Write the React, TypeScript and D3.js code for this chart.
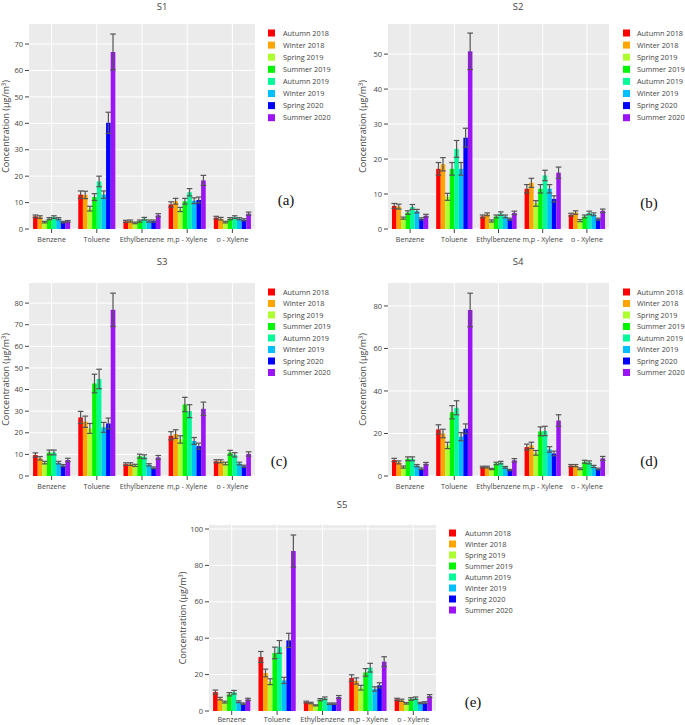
import React from 'react';
import * as d3 from 'd3';

const seasons = ['Autumn 2018', 'Winter 2018', 'Spring 2019', 'Summer 2019', 'Autumn 2019', 'Winter 2019', 'Spring 2020', 'Summer 2020'];
const seasonColors = ['#FF0000', '#FFA500', '#ADFF2F', '#00F500', '#00FA9A', '#00BFFF', '#0000FF', '#9B14F5'];
const compounds = ['Benzene', 'Toluene', 'Ethylbenzene', 'm,p - Xylene', 'o - Xylene'];

// values per season, across compounds [Benzene, Toluene, Ethylbenzene, m,p-Xylene, o-Xylene]
const s1Values = [
  [4.8, 13.0, 2.9, 9.3, 4.3],
  [4.5, 12.9, 3.0, 10.5, 3.9],
  [2.6, 7.7, 2.3, 7.4, 2.6],
  [3.9, 12.1, 3.0, 10.5, 3.9],
  [4.5, 18.0, 3.9, 13.9, 4.5],
  [3.9, 13.0, 3.0, 10.7, 3.9],
  [2.6, 40.2, 3.0, 11.0, 3.5],
  [2.9, 67.0, 5.2, 18.4, 5.8],
];
const s1Errors = [
  [0.5, 1.4, 0.4, 1.0, 0.5],
  [0.5, 1.4, 0.4, 1.1, 0.5],
  [0.3, 0.9, 0.3, 0.8, 0.3],
  [0.4, 1.3, 0.4, 1.1, 0.4],
  [0.5, 2.0, 0.5, 1.4, 0.5],
  [0.4, 1.4, 0.4, 1.1, 0.4],
  [0.3, 4.0, 0.4, 1.1, 0.4],
  [0.3, 6.8, 0.6, 1.9, 0.6],
];
const s2Values = [
  [6.6, 17.2, 3.6, 11.5, 4.1],
  [6.4, 18.5, 4.2, 13.2, 4.7],
  [3.1, 9.2, 2.3, 7.3, 2.4],
  [4.7, 17.2, 3.6, 11.5, 3.6],
  [6.3, 22.9, 4.4, 15.3, 4.6],
  [5.1, 17.2, 3.6, 11.5, 4.2],
  [2.9, 26.1, 2.8, 8.6, 2.8],
  [3.8, 50.8, 4.6, 16.1, 5.2],
];
const s2Errors = [
  [0.7, 1.8, 0.4, 1.2, 0.4],
  [0.7, 1.9, 0.4, 1.3, 0.5],
  [0.3, 1.0, 0.3, 0.8, 0.3],
  [0.5, 1.8, 0.4, 1.2, 0.4],
  [0.7, 2.4, 0.5, 1.5, 0.5],
  [0.5, 1.8, 0.4, 1.2, 0.4],
  [0.3, 2.7, 0.3, 0.9, 0.3],
  [0.4, 5.2, 0.5, 1.6, 0.5],
];
const s3Values = [
  [9.7, 27.1, 5.5, 18.6, 6.8],
  [8.2, 25.1, 5.5, 19.4, 6.8],
  [6.2, 22.0, 4.9, 16.9, 5.8],
  [10.9, 42.8, 9.2, 33.1, 10.8],
  [10.9, 44.9, 8.9, 30.0, 9.8],
  [6.2, 22.5, 5.2, 16.2, 5.8],
  [4.8, 24.3, 3.8, 13.8, 4.5],
  [7.4, 76.9, 8.6, 31.1, 10.2],
];
const s3Errors = [
  [1.0, 2.8, 0.6, 1.9, 0.7],
  [0.8, 2.6, 0.6, 2.0, 0.7],
  [0.6, 2.3, 0.5, 1.7, 0.6],
  [1.1, 4.3, 0.9, 3.3, 1.1],
  [1.1, 4.5, 0.9, 3.0, 1.0],
  [0.6, 2.3, 0.5, 1.6, 0.6],
  [0.5, 2.5, 0.4, 1.4, 0.5],
  [0.8, 7.7, 0.9, 3.1, 1.0],
];
const s4Values = [
  [7.5, 21.9, 4.2, 13.6, 4.9],
  [6.4, 20.0, 4.2, 14.4, 4.9],
  [4.2, 14.4, 3.3, 10.9, 3.4],
  [8.1, 30.0, 5.9, 21.0, 6.7],
  [8.1, 32.1, 6.3, 21.2, 6.4],
  [4.9, 18.5, 4.1, 12.5, 4.5],
  [3.4, 22.2, 2.8, 10.6, 3.3],
  [5.8, 78.1, 7.4, 26.1, 8.3],
];
const s4Errors = [
  [0.8, 2.2, 0.4, 1.4, 0.5],
  [0.7, 2.0, 0.4, 1.5, 0.5],
  [0.5, 1.5, 0.3, 1.1, 0.4],
  [0.9, 3.1, 0.6, 2.1, 0.7],
  [0.9, 3.3, 0.6, 2.2, 0.7],
  [0.5, 1.9, 0.4, 1.3, 0.5],
  [0.4, 2.3, 0.3, 1.1, 0.4],
  [0.6, 7.9, 0.8, 2.7, 0.9],
];
const s5Values = [
  [10.4, 29.7, 4.9, 18.1, 6.4],
  [6.8, 20.9, 4.4, 16.5, 5.9],
  [4.9, 16.1, 3.1, 12.8, 4.2],
  [9.2, 31.9, 6.2, 21.2, 6.6],
  [10.3, 35.2, 7.0, 23.8, 7.0],
  [5.1, 16.8, 4.0, 12.1, 4.4],
  [4.0, 38.8, 4.0, 14.1, 4.6],
  [6.4, 87.9, 7.7, 27.1, 8.2],
];
const s5Errors = [
  [1.1, 3.0, 0.5, 1.8, 0.6],
  [0.7, 2.1, 0.4, 1.7, 0.6],
  [0.5, 1.6, 0.3, 1.3, 0.4],
  [0.9, 3.2, 0.6, 2.1, 0.7],
  [1.0, 3.5, 0.7, 2.4, 0.7],
  [0.5, 1.7, 0.4, 1.2, 0.4],
  [0.4, 3.9, 0.4, 1.4, 0.5],
  [0.6, 8.8, 0.8, 2.7, 0.8],
];

const panelTitles = ['S1', 'S2', 'S3', 'S4', 'S5'];
const panelLetters = ['(a)', '(b)', '(c)', '(d)', '(e)'];
const yAxisTitle = 'Concentration (µg/m³)';

const layouts = [
  { x0: 29, x1: 255, y0: 24, y1: 229, yMax: 77.6, step: 10, titleX: 162, titleY: 10, legX: 268, legTX: 283, legY: 33, legGap: 12.1, letX: 286, letY: 205, yTitleX: 6, xLabY: 242 },
  { x0: 388, x1: 609, y0: 24, y1: 229, yMax: 58.6, step: 10, titleX: 518, titleY: 10, legX: 623, legTX: 637, legY: 33, legGap: 12.1, letX: 649, letY: 208, yTitleX: 363, xLabY: 242 },
  { x0: 29, x1: 255, y0: 283, y1: 476, yMax: 89.3, step: 10, titleX: 162, titleY: 265, legX: 268, legTX: 283, legY: 292, legGap: 11.5, letX: 279, letY: 466, yTitleX: 6, xLabY: 489 },
  { x0: 388, x1: 609, y0: 283, y1: 476, yMax: 90.8, step: 20, titleX: 518, titleY: 265, legX: 623, legTX: 637, legY: 292, legGap: 11.5, letX: 649, letY: 466, yTitleX: 363, xLabY: 489 },
  { x0: 209, x1: 436, y0: 525, y1: 711, yMax: 102.2, step: 20, titleX: 342, titleY: 508, legX: 449, legTX: 465, legY: 533, legGap: 11, letX: 473, letY: 707, yTitleX: 183, xLabY: 722 },
];

const panelValues = [s1Values, s2Values, s3Values, s4Values, s5Values];
const panelErrors = [s1Errors, s2Errors, s3Errors, s4Errors, s5Errors];

const FONT = '"Open Sans", sans-serif';
const TXT = '#444';

function Panel({ idx }: { idx: number }) {
  const L = layouts[idx];
  const values = panelValues[idx];
  const errors = panelErrors[idx];
  const x = d3.scaleBand<string>().domain(compounds).range([L.x0, L.x1]).paddingInner(0.18).paddingOuter(0.09);
  const xs = d3.scaleBand<string>().domain(seasons).range([0, x.bandwidth()]).padding(0);
  const y = d3.scaleLinear().domain([0, L.yMax]).range([L.y1, L.y0]);
  const ticks = d3.range(0, L.yMax, L.step);
  const bw = xs.bandwidth();
  return (
    <g>
      <text x={L.titleX} y={L.titleY} textAnchor="middle" fontFamily={FONT} fontSize={9.5} fill={TXT}>{panelTitles[idx]}</text>
      <rect x={L.x0} y={L.y0} width={L.x1 - L.x0} height={L.y1 - L.y0} fill="#EBEBEB" />
      {ticks.map((t) => (
        <line key={'gy' + t} x1={L.x0} x2={L.x1} y1={y(t)} y2={y(t)} stroke="#fff" strokeWidth={1} />
      ))}
      {compounds.map((c) => (
        <line key={'gx' + c} x1={x(c)! + x.bandwidth() / 2} x2={x(c)! + x.bandwidth() / 2} y1={L.y0} y2={L.y1} stroke="#fff" strokeWidth={1} />
      ))}
      {seasons.map((s, si) =>
        compounds.map((c, ci) => {
          const v = values[si][ci];
          const bx = x(c)! + xs(s)!;
          return (
            <rect key={s + c} x={bx} y={y(v)} width={bw} height={y(0) - y(v)} fill={seasonColors[si]} />
          );
        })
      )}
      {seasons.map((s, si) =>
        compounds.map((c, ci) => {
          const v = values[si][ci];
          const e = errors[si][ci];
          const cx = x(c)! + xs(s)! + bw / 2;
          const hw = 2.8;
          return (
            <g key={'e' + s + c} stroke="#555" strokeWidth={1.2}>
              <line x1={cx} x2={cx} y1={y(v - e)} y2={y(v + e)} />
              <line x1={cx - hw} x2={cx + hw} y1={y(v + e)} y2={y(v + e)} />
              <line x1={cx - hw} x2={cx + hw} y1={y(v - e)} y2={y(v - e)} />
            </g>
          );
        })
      )}
      {ticks.map((t) => (
        <g key={'ty' + t}>
          <line x1={L.x0 - 4} x2={L.x0} y1={y(t)} y2={y(t)} stroke="#444" strokeWidth={1} />
          <text x={L.x0 - 6} y={y(t)} dy="0.35em" textAnchor="end" fontFamily={FONT} fontSize={7.5} fill={TXT}>{t}</text>
        </g>
      ))}
      {compounds.map((c) => (
        <g key={'tx' + c}>
          <line x1={x(c)! + x.bandwidth() / 2} x2={x(c)! + x.bandwidth() / 2} y1={L.y1} y2={L.y1 + 4} stroke="#444" strokeWidth={1} />
          <text x={x(c)! + x.bandwidth() / 2} y={L.xLabY} textAnchor="middle" fontFamily={FONT} fontSize={7.1} fill={TXT}>{c}</text>
        </g>
      ))}
      <text transform={`translate(${L.yTitleX},${(L.y0 + L.y1) / 2}) rotate(-90)`} dy="0.35em" textAnchor="middle" fontFamily={FONT} fontSize={9} fill={TXT}>{yAxisTitle}</text>
      {seasons.map((s, si) => (
        <g key={'lg' + s}>
          <rect x={L.legX} y={L.legY + si * L.legGap - 3.5} width={7} height={7} fill={seasonColors[si]} />
          <text x={L.legTX} y={L.legY + si * L.legGap} dy="0.35em" fontFamily={FONT} fontSize={7.3} fill={TXT}>{s}</text>
        </g>
      ))}
      <text x={L.letX} y={L.letY} textAnchor="middle" fontFamily={'"Liberation Serif", "Times New Roman", serif'} fontSize={15} fill="#111">{panelLetters[idx]}</text>
    </g>
  );
}

export default function App() {
  return (
    <svg width={685} height={725} style={{ position: 'absolute', left: 0, top: 0, background: '#fff' }}>
      {[0, 1, 2, 3, 4].map((i) => (
        <Panel key={i} idx={i} />
      ))}
    </svg>
  );
}
